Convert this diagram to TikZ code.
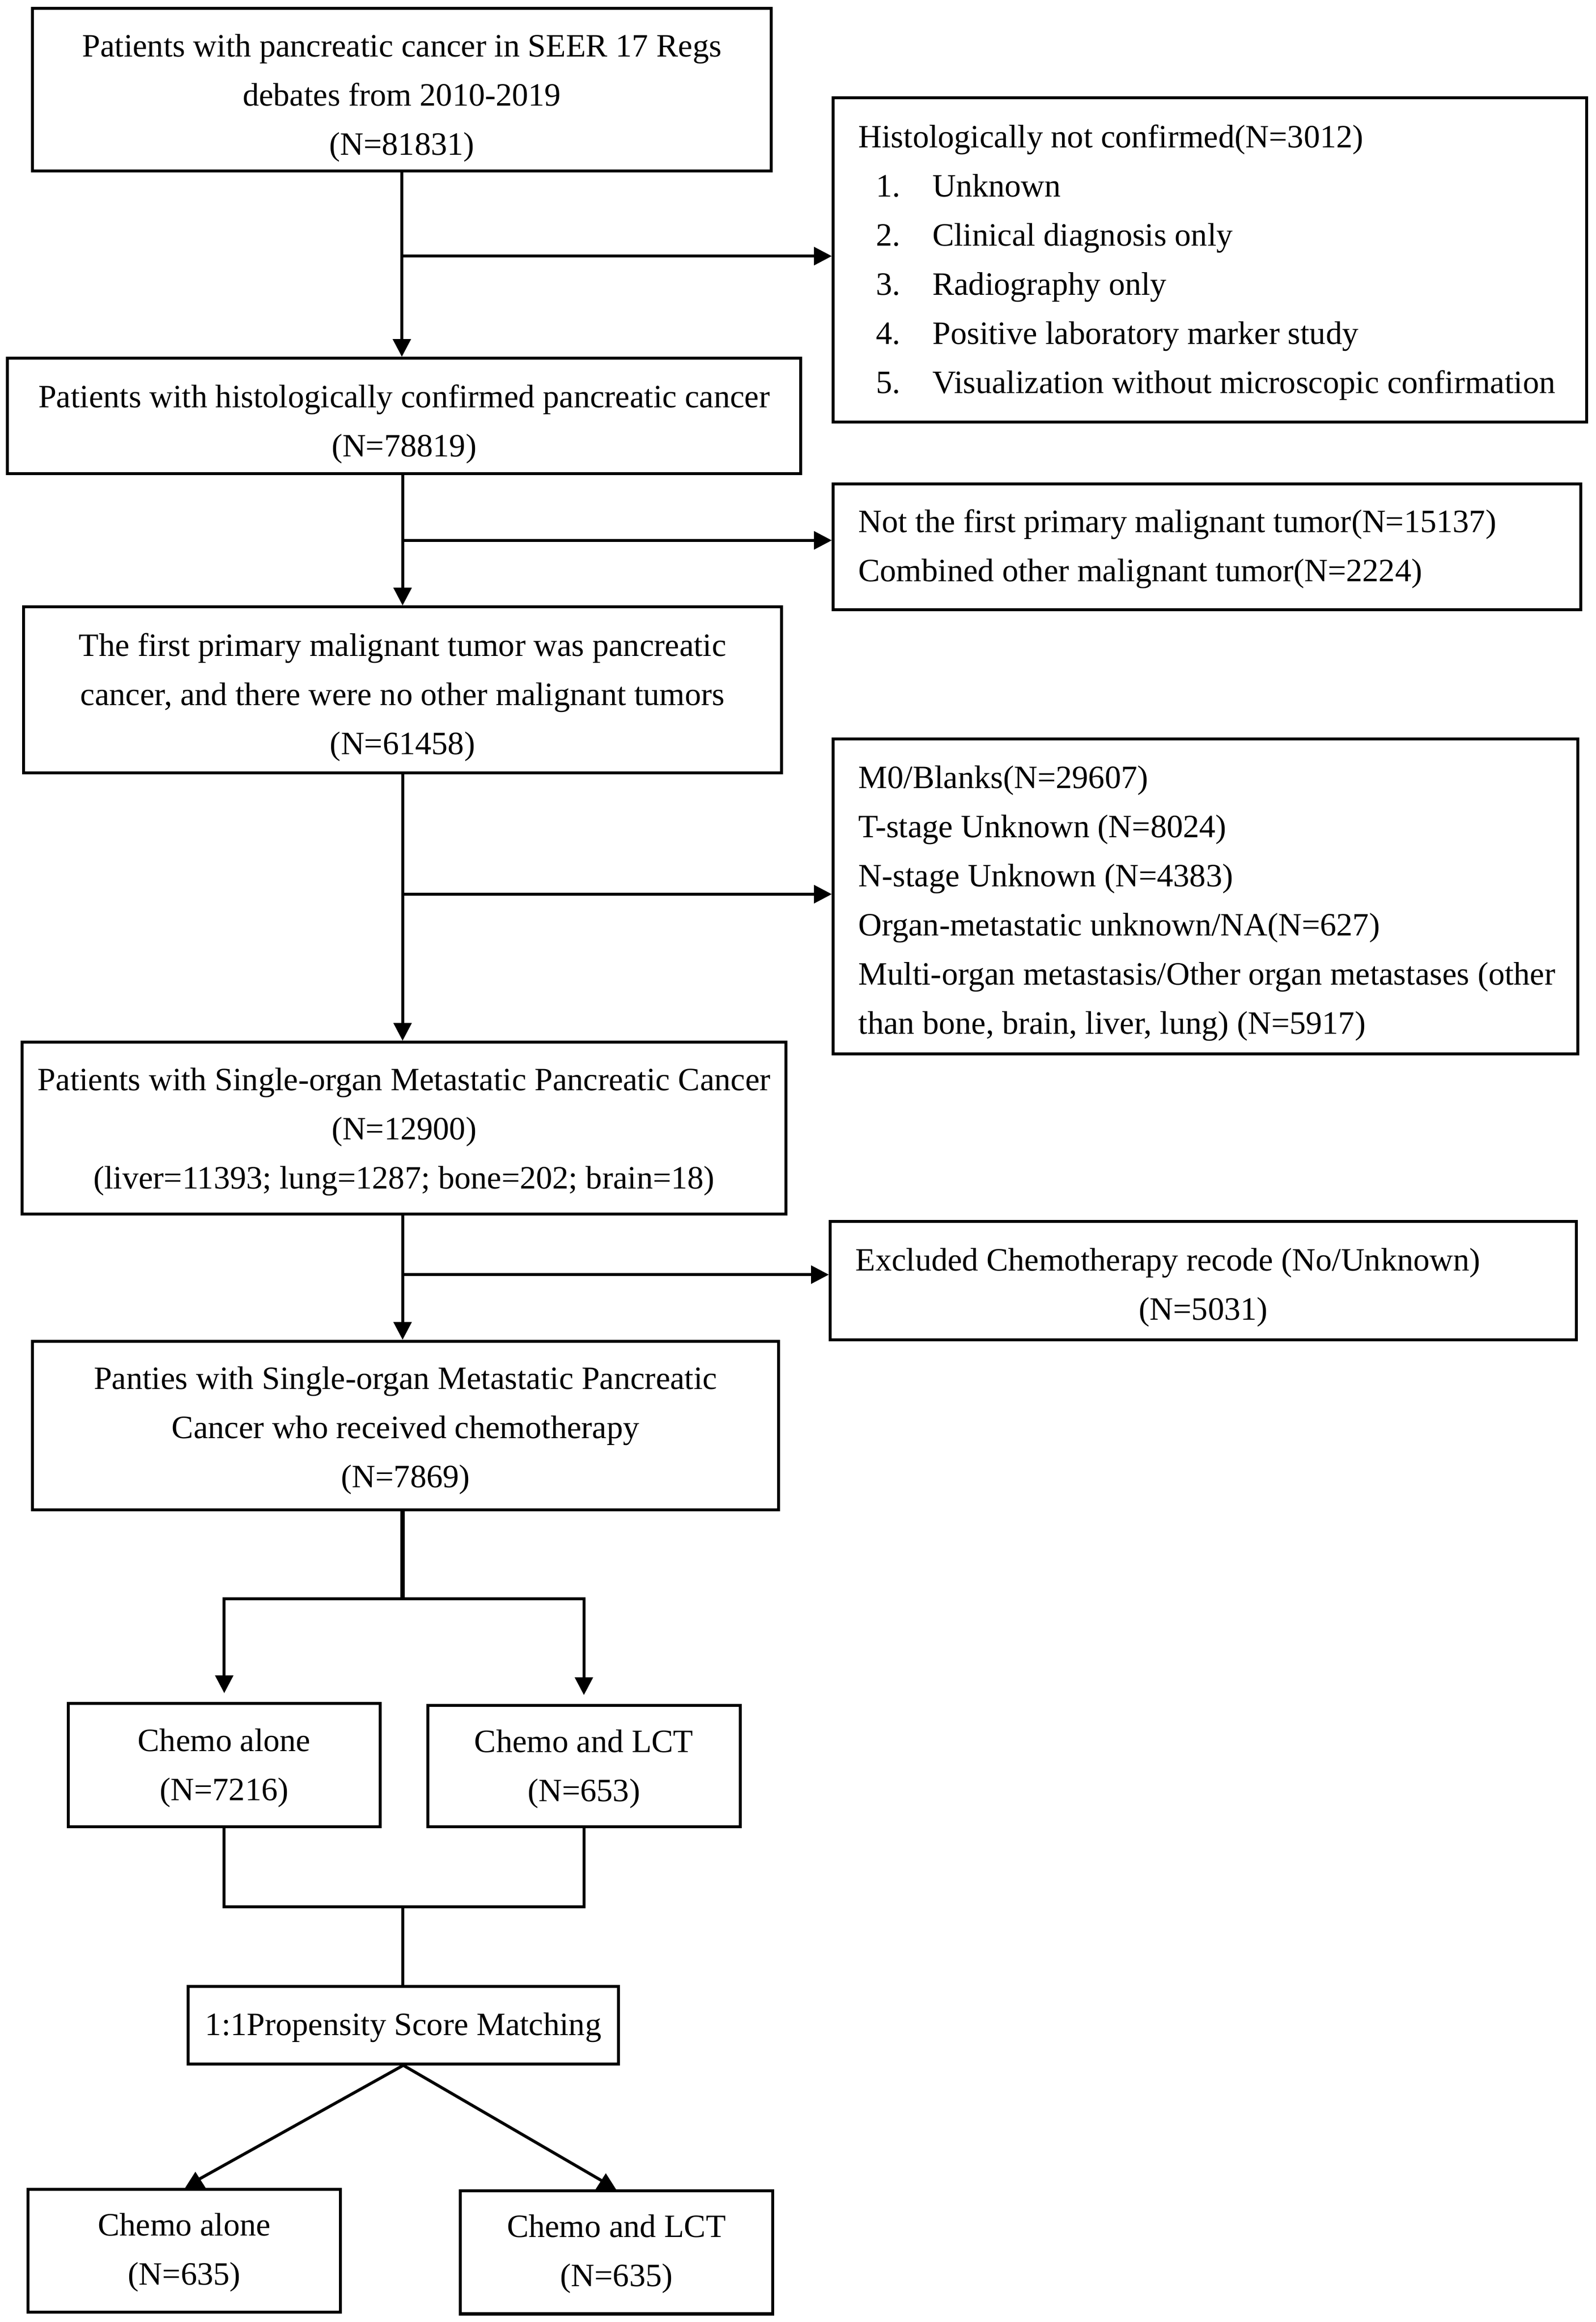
\documentclass[tikz,border=0pt]{standalone}
\usepackage{fontspec}
\setmainfont{Liberation Serif}
\usetikzlibrary{arrows.meta}

\tikzset{
  box/.style={draw, line width=2pt, inner sep=0pt, align=flush center,
    font=\fontsize{22}{33.2}\selectfont,
    execute at begin node={\rule{0pt}{#1}}},
  box/.default=20pt,
  exclbox/.style={box=#1, align=flush left},
  arr/.style={line width=2pt, -{Triangle[length=12pt,width=12pt]}},
  link/.style={line width=2pt},
}
\newcommand{\itm}[1]{\hspace*{12pt}\makebox[38pt][l]{#1}}

\begin{document}
\begin{tikzpicture}[x=1pt,y=-1pt]
  \useasboundingbox (0,0) rectangle (1078,1568.5);

  % main column
  \node[box=26.4pt, minimum width=499pt, minimum height=110pt, text width=489pt] (seer) at (271.5,60.6)
    {Patients with pancreatic cancer in SEER 17 Regs\\debates from 2010-2019\\(N=81831)};
  \node[box=26.5pt, minimum width=536pt, minimum height=78pt, text width=526pt] (histo) at (273,281)
    {Patients with histologically confirmed pancreatic cancer\\(N=78819)};
  \node[box=25.7pt, minimum width=512pt, minimum height=112pt, text width=502pt] (first) at (272,466)
    {The first primary malignant tumor was pancreatic\\cancer, and there were no other malignant tumors\\(N=61458)};
  \node[box=20.6pt, minimum width=516pt, minimum height=116pt, text width=506pt] (single) at (273,762)
    {Patients with Single-organ Metastatic Pancreatic Cancer\\(N=12900)\\(liver=11393; lung=1287; bone=202; brain=18)};
  \node[box=21.8pt, minimum width=504pt, minimum height=114pt, text width=494pt] (chemo) at (274,963)
    {Panties with Single-organ Metastatic Pancreatic\\Cancer who received chemotherapy\\(N=7869)};

  % exclusions
  \node[exclbox=18.8pt, minimum width=509pt, minimum height=219pt, text width=475pt] (ex1) at (817.5,175.7)
    {Histologically not confirmed(N=3012)\\
     \itm{1.}Unknown\\
     \itm{2.}Clinical diagnosis only\\
     \itm{3.}Radiography only\\
     \itm{4.}Positive laboratory marker study\\
     \mbox{\itm{5.}Visualization without microscopic confirmation}};
  \node[exclbox=18.4pt, minimum width=505pt, minimum height=85pt, text width=471pt] (ex2) at (815.5,369.5)
    {Not the first primary malignant tumor(N=15137)\\Combined other malignant tumor(N=2224)};
  \node[exclbox=24.8pt, minimum width=503pt, minimum height=213pt, text width=469pt] (ex3) at (814.5,605.5)
    {M0/Blanks(N=29607)\\T-stage Unknown (N=8024)\\N-stage Unknown (N=4383)\\Organ-metastatic unknown/NA(N=627)\\\mbox{Multi-organ metastasis/Other organ metastases (other}\\than bone, brain, liver, lung) (N=5917)};
  \node[exclbox=24.5pt, minimum width=504pt, minimum height=80pt, text width=470pt] (ex4) at (813,865)
    {Excluded Chemotherapy recode (No/Unknown)\\\mbox{}\hfill(N=5031)\hfill\mbox{}};

  % treatment groups
  \node[box=18.9pt, minimum width=211pt, minimum height=83.4pt, text width=201pt] (alone) at (151.5,1192.4) {Chemo alone\\(N=7216)};
  \node[box=19.1pt, minimum width=211pt, minimum height=82pt, text width=201pt] (lct) at (394.5,1193) {Chemo and LCT\\(N=653)};
  \node[box=18.4pt, minimum width=291pt, minimum height=52.4pt, text width=281pt] (psm) at (272.5,1367.9) {1:1Propensity Score Matching};
  \node[box=17.5pt, minimum width=211pt, minimum height=83pt, text width=201pt] (malone) at (124.5,1520.5) {Chemo alone\\(N=635)};
  \node[box=17.5pt, minimum width=211pt, minimum height=83pt, text width=201pt] (mlct) at (416.5,1521.5) {Chemo and LCT\\(N=635)};

  \coordinate (b1) at (272,173);
  \coordinate (b2) at (272,365);
  \coordinate (b3) at (272,604);
  \coordinate (b4) at (272,861);
  \coordinate (split) at (272,1080);
  \coordinate (merge) at (272,1288);

  \draw[arr] (seer.south) -- (seer.south |- histo.north);
  \draw[arr] (b1) -- (b1 -| ex1.west);
  \draw[arr] (histo.south -| b2) -- (first.north -| b2);
  \draw[arr] (b2) -- (b2 -| ex2.west);
  \draw[arr] (first.south) -- (single.north -| first.south);
  \draw[arr] (b3) -- (b3 -| ex3.west);
  \draw[arr] (single.south -| b4) -- (chemo.north -| b4);
  \draw[arr] (b4) -- (b4 -| ex4.west);

  \draw[line width=3pt] (chemo.south -| split) -- (split);
  \draw[arr, shorten >=6pt] (split) -| (alone.north);
  \draw[arr, shorten >=6pt] (split) -| (lct.north);
  \draw[link] (alone.south) |- (merge) -| (lct.south);
  \draw[link] (merge) -- (merge |- psm.north);

  % matched groups, heads sit flat on the boxes
  \draw[link] (psm.south) -- ([xshift=10pt,yshift=6pt]malone.north);
  \fill ([xshift=7.5pt]malone.north) ++(-7,0) -- ++(7,-11) -- ++(7,11) -- cycle;
  \draw[link] (psm.south) -- ([xshift=-10pt,yshift=6pt]mlct.north);
  \fill ([xshift=-7.2pt]mlct.north) ++(-7,0) -- ++(7,-11) -- ++(7,11) -- cycle;
\end{tikzpicture}
\end{document}
